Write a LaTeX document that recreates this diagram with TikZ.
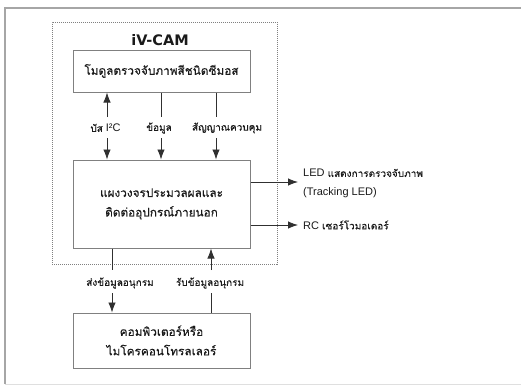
\documentclass[tikz,border=0pt]{standalone}
\usepackage{fontspec}
\setmainfont{Liberation Sans}
\newfontfamily\thai[Script=Thai,FakeBold=0.35]{Loma}
\newfontfamily\titlefont{DejaVu Sans}
\usetikzlibrary{arrows.meta}
\definecolor{boxline}{HTML}{808080}
\definecolor{arrline}{HTML}{303030}
\definecolor{txt}{HTML}{1A1A1A}
\begin{document}
\begin{tikzpicture}[x=1pt,y=-1pt,
  box/.style={draw=boxline,line width=1pt,inner sep=0pt,align=center,text=txt,
    font=\thai\fontsize{11.8}{19.5}\selectfont,minimum width=177pt},
  grp/.style={draw=boxline,line width=0.9pt,dash pattern=on 1.2pt off 0.8pt,inner sep=0pt},
  lbl/.style={inner sep=0pt,text=txt,font=\fontsize{11}{14}\selectfont},
  tlbl/.style={inner sep=0pt,text=txt,font=\thai\fontsize{10}{14}\selectfont},
  conn/.style={draw=arrline,line width=0.8pt},
  arr/.style={conn,-{Latex[length=10pt,width=7.5pt]}},
  frame/.style={draw=gray!70,line width=1.6pt}]
\useasboundingbox (0,0) rectangle (521,386);
% outer frame
\draw[frame] (5,384) -- (5,8) -- (521,8);
\draw[draw=gray!25,line width=1pt] (5,384.5) -- (521,384.5);
% group
\node[grp,minimum width=225pt,minimum height=242pt] (cam) at (164.5,143) {};
\node[inner sep=0pt,text=txt,font=\titlefont\bfseries\fontsize{14.5}{16}\selectfont] (title) at (160,40) {iV-CAM};
% boxes
\node[box,minimum height=42pt] (cmos) at (161.5,71) {โมดูลตรวจจับภาพสีชนิดซีมอส};
\node[box,minimum height=88pt] (proc) at (161.5,204) {แผงวงจรประมวลผลและ\\ติดต่ออุปกรณ์ภายนอก};
\node[box,minimum height=55pt] (pc) at (161.5,340.5) {คอมพิวเตอร์หรือ\\ไมโครคอนโทรลเลอร์};
% top labels
\node[lbl] (i2c) at (105.5,128) {{\thai\fontsize{10}{14}\selectfont บัส} I²C};
\node[tlbl] (data) at (159,128) {ข้อมูล};
\node[tlbl] (ctrl) at (227,128) {สัญญาณควบคุม};
\coordinate (a1t) at (107,117); \coordinate (a1b) at (107,138);
\coordinate (a2t) at (161,117); \coordinate (a2b) at (161,138);
\coordinate (a3t) at (216,117); \coordinate (a3b) at (216,138);
\draw[arr] (a1t) -- (a1t |- cmos.south);
\draw[arr] (a1b) -- (a1b |- proc.north);
\draw[conn] (a2t |- cmos.south) -- (a2t);
\draw[arr] (a2b) -- (a2b |- proc.north);
\draw[conn] (a3t |- cmos.south) -- (a3t);
\draw[arr] (a3b) -- (a3b |- proc.north);
% bottom labels
\node[tlbl] (tx) at (120,283) {ส่งข้อมูลอนุกรม};
\node[tlbl] (rx) at (210,283) {รับข้อมูลอนุกรม};
\coordinate (b1t) at (112,270); \coordinate (b1b) at (112,293);
\coordinate (b2t) at (211,270); \coordinate (b2b) at (211,293);
\draw[conn] (b1t |- proc.south) -- (b1t);
\draw[arr] (b1b) -- (b1b |- pc.north);
\draw[conn] (b2b |- pc.north) -- (b2b);
\draw[arr] (b2t) -- (b2t |- proc.south);
% right outputs
\coordinate (o1) at (298,182); \coordinate (o2) at (298,225);
\draw[arr] (o1 -| proc.east) -- (o1);
\draw[arr] (o2 -| proc.east) -- (o2);
\node[lbl,anchor=west] (led) at (303,173) {LED {\thai\fontsize{10}{14}\selectfont แสดงการตรวจจับภาพ}};
\node[lbl,anchor=west] (ledt) at (303,193) {(Tracking LED)};
\node[lbl,anchor=west] (rc) at (303,225) {RC {\thai\fontsize{10}{14}\selectfont เซอร์โวมอเตอร์}};
\end{tikzpicture}
\end{document}
